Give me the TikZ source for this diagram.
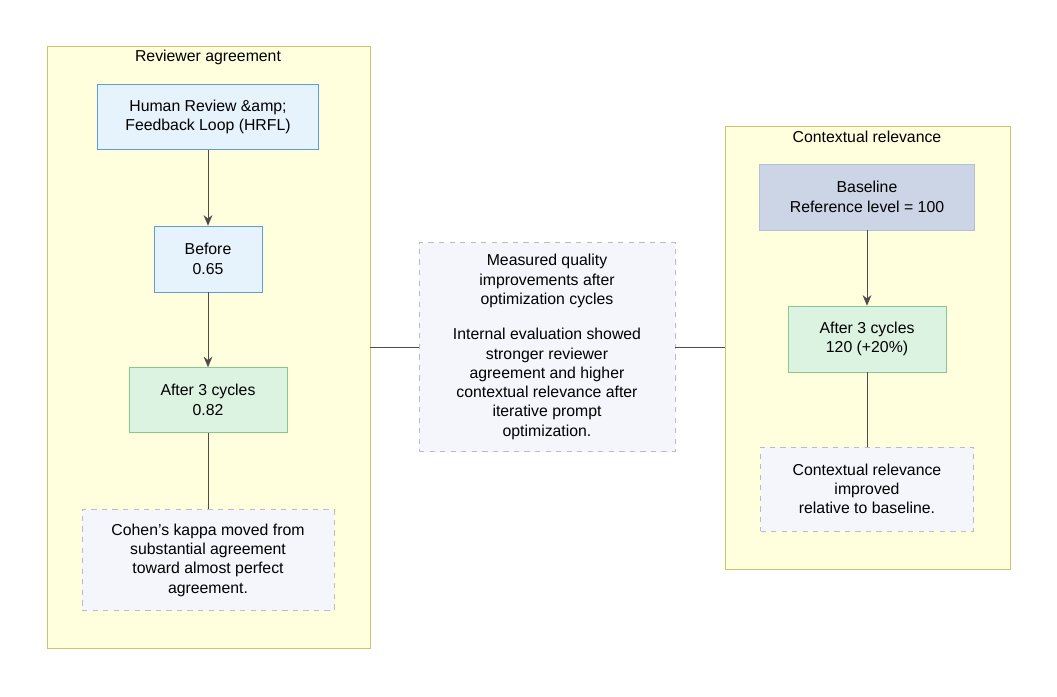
\documentclass[tikz,border=0pt]{standalone}
\usepackage{fontspec}
\setmainfont{Liberation Sans}
\usetikzlibrary{arrows.meta}
\usetikzlibrary{positioning}

\definecolor{clusterfill}{HTML}{FFFFDE}
\definecolor{clusterline}{HTML}{C8C86A}
\definecolor{bluefill}{HTML}{E6F2FC}
\definecolor{blueline}{HTML}{5A9FDC}
\definecolor{greenfill}{HTML}{DDF3E2}
\definecolor{greenline}{HTML}{86C796}
\definecolor{basefill}{HTML}{CCD5E6}
\definecolor{baseline}{HTML}{B4C0D6}
\definecolor{notefill}{HTML}{F5F6FB}
\definecolor{noteline}{HTML}{BBBBC8}

\tikzset{
	cluster/.style={draw=clusterline, fill=clusterfill},
	box/.style={align=center, font=\fontsize{9}{11}\selectfont, inner sep=0pt},
	bluebox/.style={box, draw=blueline, fill=bluefill},
	greenbox/.style={box, draw=greenline, fill=greenfill},
	basebox/.style={box, draw=baseline, fill=basefill},
	notebox/.style={box, draw=noteline, fill=notefill, dashed},
	link/.style={draw=black!70, -{Stealth[length=6pt,width=5pt]}},
	plain/.style={draw=black!70}
}

\begin{document}
\begin{tikzpicture}[x=0.02cm, y=-0.02cm]
	% canvas
	\useasboundingbox (0,0) rectangle (1057,696);

	% clusters
	\draw[cluster] (47,46) rectangle (370,648);
	\node[box] (lefttitle) at (208,57) {Reviewer agreement};
	\draw[cluster] (725,126) rectangle (1010,569);
	\node[box] (righttitle) at (867,137) {Contextual relevance};
	\coordinate (leftedge) at (370,347);
	\coordinate (rightedge) at (725,347);

	% left column
	\node[bluebox, minimum width=221*0.02cm, minimum height=65*0.02cm] (hrfl) at (208,117) {Human Review \&amp;\\Feedback Loop (HRFL)};
	\node[bluebox, minimum width=108*0.02cm, minimum height=66*0.02cm] (before) at (208,259) {Before\\0.65};
	\node[greenbox, minimum width=158*0.02cm, minimum height=65*0.02cm] (afterleft) at (208,400) {After 3 cycles\\0.82};
	\node[notebox, minimum width=252*0.02cm, minimum height=101*0.02cm] (kappa) at (208,560) {Cohen's kappa moved from\\substantial agreement\\toward almost perfect\\agreement.};

	% middle note
	\node[notebox, minimum width=256*0.02cm, minimum height=209*0.02cm] (summary) at (547,347) {Measured quality\\improvements after\\optimization cycles\\[9pt]Internal evaluation showed\\stronger reviewer\\agreement and higher\\contextual relevance after\\iterative prompt\\optimization.};

	% right column
	\node[basebox, minimum width=215*0.02cm, minimum height=66*0.02cm] (base) at (867,197) {Baseline\\Reference level = 100};
	\node[greenbox, minimum width=158*0.02cm, minimum height=66*0.02cm] (afterright) at (867,339) {After 3 cycles\\120 (+20\%)};
	\node[notebox, minimum width=213*0.02cm, minimum height=84*0.02cm] (relevance) at (867,489) {Contextual relevance\\improved\\relative to baseline.};

	% connectors
	\draw[link] (hrfl) -- (before);
	\draw[link] (before) -- (afterleft);
	\draw[plain] (afterleft) -- (kappa);
	\draw[link] (base) -- (afterright);
	\draw[plain] (afterright) -- (relevance);
	\draw[plain] (leftedge) -- (summary);
	\draw[plain] (summary) -- (rightedge);
\end{tikzpicture}
\end{document}
